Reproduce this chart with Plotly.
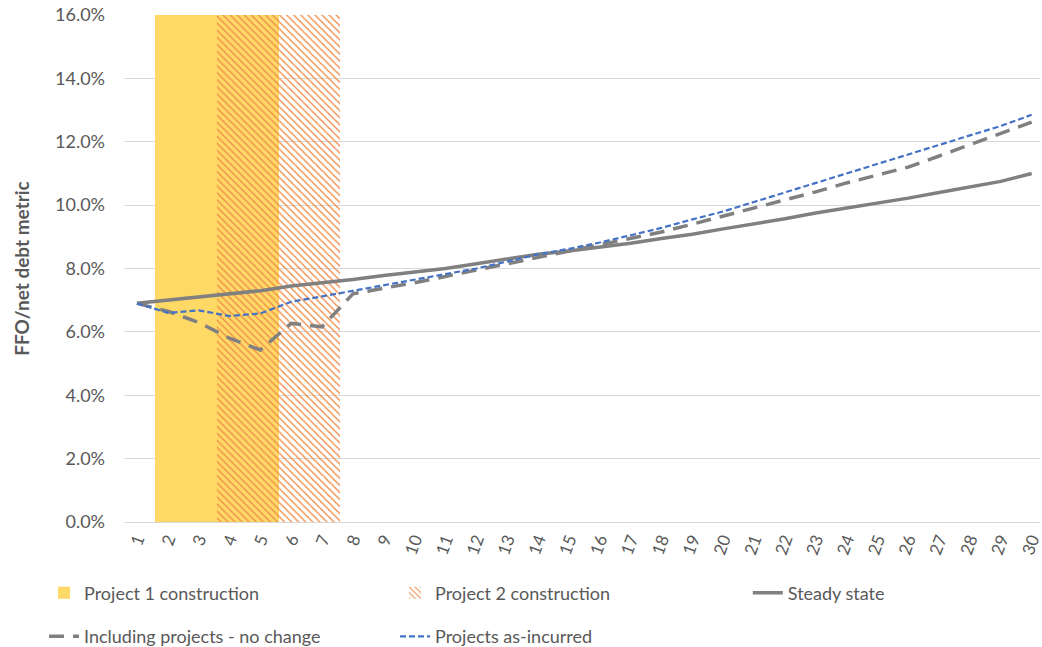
import plotly.graph_objects as go

years = list(range(1, 31))

steady_state = [6.9, 7.0, 7.08, 7.2, 7.3, 7.45, 7.55, 7.65, 7.78, 7.88,
                8.0, 8.15, 8.3, 8.45, 8.55, 8.67, 8.8, 8.95, 9.08, 9.25,
                9.4, 9.57, 9.75, 9.9, 10.05, 10.22, 10.4, 10.58, 10.75, 11.0]

no_change = [6.9, 6.65, 6.3, 5.8, 5.43, 6.27, 6.16, 7.2, 7.38, 7.55,
             7.75, 7.95, 8.15, 8.35, 8.55, 8.75, 8.95, 9.15, 9.4, 9.65,
             9.9, 10.15, 10.42, 10.7, 10.95, 11.2, 11.55, 11.9, 12.25, 12.62]

as_incurred = [6.9, 6.6, 6.68, 6.5, 6.58, 6.95, 7.12, 7.3, 7.47, 7.65,
               7.82, 8.0, 8.22, 8.45, 8.62, 8.82, 9.05, 9.28, 9.55, 9.8,
               10.1, 10.4, 10.7, 11.0, 11.3, 11.6, 11.9, 12.2, 12.5, 12.85]

project1_years = [2, 3, 4, 5]
project2_years = [4, 5, 6, 7]
shade_top = 16.0  # construction periods shaded over the full axis height

y_ticks = [0, 2, 4, 6, 8, 10, 12, 14, 16]

FONT = "Lato, 'Open Sans', sans-serif"
TXT = "#595959"

fig = go.Figure()

fig.add_trace(go.Bar(
    x=project1_years, y=[shade_top / 100] * len(project1_years),
    width=1, offset=-0.41,
    name="Project 1 construction",
    marker=dict(color="#FFD966", line=dict(width=0)),
    legend="legend", hoverinfo="skip",
))
fig.add_trace(go.Bar(
    x=project2_years, y=[shade_top / 100] * len(project2_years),
    width=1, offset=-0.41,
    name="Project 2 construction",
    marker=dict(color="#F08C4A", line=dict(width=0),
                pattern=dict(shape="\\", fgcolor="#F08C4A", bgcolor="rgba(0,0,0,0)",
                             size=5, solidity=0.28, fillmode="replace")),
    legend="legend", hoverinfo="skip",
))
fig.add_trace(go.Scatter(
    x=years, y=[v / 100 for v in steady_state], mode="lines",
    name="Steady state", line=dict(color="#808080", width=3.5),
    legend="legend3",
))
fig.add_trace(go.Scatter(
    x=years, y=[v / 100 for v in no_change], mode="lines",
    name="Including projects - no change",
    line=dict(color="#808080", width=3.5, dash="15px,9px"),
    legend="legend2",
))
fig.add_trace(go.Scatter(
    x=years, y=[v / 100 for v in as_incurred], mode="lines",
    name="Projects as-incurred",
    line=dict(color="#4472C4", width=2.2, dash="6px,3px"),
    legend="legend2",
))

legend_common = dict(
    orientation="h", xanchor="left", yanchor="middle",
    font=dict(family=FONT, size=18, color=TXT),
    bgcolor="rgba(0,0,0,0)", traceorder="normal",
)

fig.update_layout(
    width=1042, height=647,
    margin=dict(l=124, r=2, t=15, b=125, autoexpand=False),
    paper_bgcolor="white", plot_bgcolor="white",
    barmode="overlay", bargap=0,
    font=dict(family=FONT, color=TXT),
    showlegend=True,
    legend=dict(x=-0.0873, y=-0.14, entrywidth=306, **legend_common),
    legend3=dict(x=0.681, y=-0.14, **legend_common),
    legend2=dict(x=-0.0873, y=-0.226, entrywidth=306, **legend_common),
    xaxis=dict(
        range=[0.58, 30.27], tickmode="array", tickvals=years,
        ticktext=[str(y) for y in years], tickangle=-70,
        tickfont=dict(family=FONT, size=17, color=TXT),
        ticklabeloverflow="allow",
        showgrid=False, showline=True, linecolor="#D9D9D9", linewidth=1,
        ticks="", zeroline=False,
    ),
    yaxis=dict(
        range=[0, 0.16], tickmode="array", tickvals=[t / 100 for t in y_ticks],
        tickformat=".1%", tickfont=dict(family=FONT, size=18, color=TXT),
        ticklabelstandoff=18,
        showgrid=True, gridcolor="#D9D9D9", gridwidth=1,
        zeroline=False, showline=False, ticks="",
        title=dict(text="<b>FFO/net debt metric</b>",
                   font=dict(family=FONT, size=19, color=TXT), standoff=20),
    ),
)

fig.write_html("out.html")
